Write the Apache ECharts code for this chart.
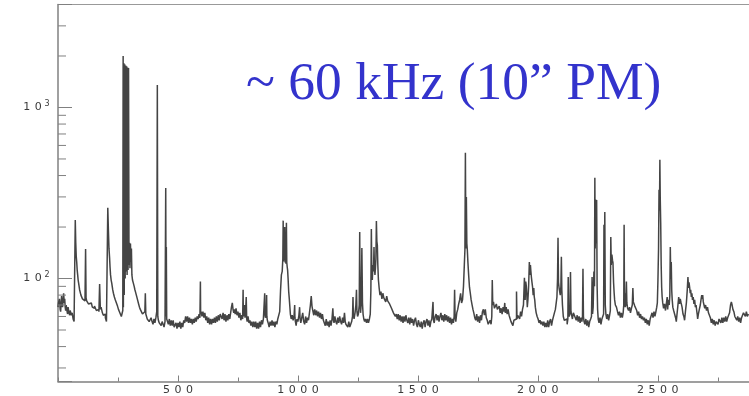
<!DOCTYPE html>
<html>
<head>
<meta charset="utf-8">
<script src="https://cdn.jsdelivr.net/npm/echarts@6/dist/echarts.min.js"></script>
<style>html,body{margin:0;padding:0;background:#fff;}#c{width:749px;height:396px;}</style>
</head>
<body>
<div id="c"></div>
<script>
// ---- data: [channel, counts] ----
const segA = [[0,68],[4,72],[8,76],[10,66],[12,64],[14,72],[16,79],[18,70],[20,68],[22,74],[25,82],[27,72],[29,76],[31,68],[33,65],[35,70],[37,71],[39,64],[41,62],[43,68],[45,69],[47,63],[50,61],[52,65],[54,66],[56,61],[58,60],[60,63],[62,62],[64,58],[66,58],[68,56],[71,57]];
const segB = [[73,220],[75,162],[77,135],[79,125],[81,112],[83,105],[85,98],[87,94],[89,90],[91,86],[94,84],[97,80],[100,79],[104,76],[108,75],[111,74],[114,73],[116,149],[118,77],[121,74],[125,73],[129,71],[133,70],[137,72],[141,71],[145,68],[150,67],[154,69],[158,68],[162,65],[166,64],[169,66],[172,64],[175,93],[178,66],[181,68],[183,67],[187,63],[191,61],[195,62],[200,59],[204,56],[206,57],[209,259],[211,193],[214,150],[216,132],[218,116],[220,105],[223,98],[225,94],[227,90],[229,86],[233,82],[237,78],[241,75],[246,72],[250,69],[254,66],[258,64],[262,63],[266,60],[269,59]];
const segC = [[271,65],[272,2000],[273,68],[275,1820],[277,80],[279,1790],[281,100],[283,1760],[285,110],[287,1740],[289,105],[291,1710],[293,112],[295,1700],[297,120],[299,162],[301,115],[303,160],[305,125],[307,150],[309,105],[312,98],[316,94],[319,90],[322,86],[325,83],[328,80],[331,77],[334,75],[338,71],[341,68],[345,66],[350,64],[354,62],[358,61],[361,63],[363,64],[365,82],[367,62],[370,61],[374,58],[378,59],[382,56],[386,57],[390,59],[394,56],[398,54],[402,58],[406,55],[410,59],[413,64],[415,1355],[417,60],[420,57],[424,55],[428,56],[432,53],[436,56],[440,54],[444,52],[448,56],[450,338],[451,60],[452,153],[454,58]];
const segD = [[458,58],[462,54],[466,58],[470,53],[474,57],[478,53],[482,57],[486,52],[490,51],[494,55],[498,51],[502,55],[506,52],[510,56],[514,51],[518,55],[522,52],[526,57],[530,55],[534,60],[538,56],[542,60],[546,55],[550,59],[554,55],[558,58],[562,54],[566,58],[570,55],[574,59],[578,56],[582,60],[586,58],[590,62],[593,59],[594,96],[595,62],[598,64],[602,60],[606,64],[610,59],[614,63],[618,57],[622,60],[626,55],[630,59],[634,54],[638,58],[642,54],[646,58],[650,55],[654,59],[658,55],[662,60],[666,56],[670,61],[674,57],[678,62],[682,60],[686,58],[690,63],[694,57],[698,62],[702,56],[706,61],[710,57],[714,62],[718,58],[721,63],[725,68],[728,72],[731,66],[734,63],[737,66],[740,62],[744,67],[748,61],[752,64],[756,59],[760,63],[764,57],[768,61],[771,58],[772,86],[773,60],[776,63],[779,70],[780,59],[783,62],[786,78],[787,58],[790,56],[794,60],[798,55],[802,57],[806,53],[810,56],[814,52],[818,56],[822,52],[826,56],[830,51],[834,55],[838,51],[842,56],[846,52],[850,57],[854,54],[858,58],[861,57],[862,82],[863,62],[866,59],[869,61],[870,80],[871,60],[874,57],[878,55],[882,52],[886,56],[890,53],[894,57],[898,53],[902,56],[906,52],[910,56],[914,54],[918,58],[922,57],[926,64],[929,85],[933,105],[936,110],[938,130],[939,218],[940,126],[942,145],[944,128],[946,200],[947,124],[949,150],[951,122],[953,212],[954,124],[956,118],[958,112],[960,100],[963,84],[965,76],[967,75]];
const segE = [[970,62],[974,58],[978,61],[982,57],[986,61],[987,70],[988,59],[991,56],[994,53],[998,58],[1002,56],[1006,61],[1008,68],[1010,58],[1014,55],[1018,59],[1022,63],[1026,56],[1030,54],[1034,60],[1038,55],[1042,59],[1046,57],[1050,63],[1054,70],[1057,79],[1060,69],[1064,65],[1068,61],[1072,66],[1076,61],[1080,65],[1084,60],[1088,64],[1092,59],[1096,63],[1100,58],[1104,62],[1108,57],[1112,55],[1116,53],[1120,58],[1124,53],[1128,56],[1132,52],[1136,57],[1140,53],[1144,58],[1147,67],[1149,57],[1152,55],[1156,60],[1160,56],[1164,54],[1168,59],[1172,55],[1176,60],[1180,56],[1184,54],[1188,59],[1192,55],[1196,63],[1198,56],[1202,54],[1206,55],[1210,52],[1214,56],[1218,52],[1222,51],[1226,56],[1229,60],[1230,78],[1232,62],[1236,58],[1240,63],[1243,70],[1245,86],[1247,64],[1250,60],[1254,62],[1257,70],[1258,187],[1260,80],[1262,63],[1265,70],[1268,151],[1270,72],[1273,62],[1276,58],[1280,56],[1284,58],[1288,55],[1292,58],[1296,55],[1300,58],[1303,62],[1305,85],[1307,195],[1309,110],[1311,98],[1314,120],[1316,110],[1318,153],[1320,115],[1322,105],[1324,115],[1326,130],[1328,217],[1330,165],[1332,157],[1334,120],[1337,98],[1340,88],[1344,80],[1348,84],[1352,76],[1356,82],[1360,77],[1364,79],[1368,73],[1372,79],[1376,74],[1380,76],[1384,71],[1388,72],[1392,67],[1396,67],[1400,63],[1404,64],[1408,60],[1412,62],[1416,58],[1420,62],[1424,57],[1428,61],[1432,56],[1436,60],[1440,55],[1444,60],[1448,56],[1452,61],[1456,57],[1460,55],[1464,59],[1468,54],[1472,59],[1476,55],[1480,58],[1484,53],[1488,57],[1492,59],[1496,54],[1500,52],[1504,57],[1508,54],[1512,52],[1516,56],[1520,51],[1524,55],[1528,57],[1532,52],[1536,56],[1540,58],[1544,53],[1548,57],[1552,52],[1556,56],[1560,58],[1562,59],[1564,73],[1566,57],[1570,55],[1574,60],[1578,62],[1582,57],[1586,61],[1590,56],[1594,60],[1598,63],[1602,57],[1606,61],[1610,56],[1614,62],[1618,57],[1622,61],[1626,56],[1630,60],[1634,55],[1638,59],[1642,54],[1646,58],[1650,55],[1652,60],[1654,86],[1656,60],[1660,56],[1664,63],[1668,66],[1672,71]];
const segF = [[1676,75],[1680,82],[1684,72],[1688,75],[1692,90],[1695,120],[1697,147],[1699,543],[1701,150],[1703,300],[1705,160],[1707,147],[1710,124],[1713,105],[1717,89],[1720,82],[1724,75],[1728,70],[1731,66],[1735,63],[1739,59],[1743,57],[1747,62],[1751,56],[1755,60],[1759,55],[1763,61],[1767,57],[1771,64],[1775,66],[1779,61],[1783,66],[1787,59],[1791,57],[1795,54],[1799,53],[1803,57],[1807,54],[1809,60],[1811,98],[1813,70],[1817,73],[1821,67],[1825,66],[1829,71],[1833,66],[1837,65],[1841,69],[1845,63],[1849,67],[1853,62],[1857,68],[1861,64],[1863,72],[1866,63],[1870,68],[1874,62],[1878,66],[1882,61],[1886,60],[1890,56],[1894,55],[1898,53],[1902,57],[1906,56],[1910,58],[1912,84],[1914,58],[1918,61],[1922,62],[1926,58],[1930,64],[1934,60],[1938,66],[1942,70],[1946,101],[1948,75],[1951,96],[1953,90],[1955,80],[1957,68],[1960,75],[1963,90],[1966,125],[1968,105],[1970,120],[1972,110],[1974,102],[1977,95],[1979,89],[1982,80],[1984,88],[1986,78],[1988,75],[1991,68],[1995,63],[1999,60]];
const segG = [[2003,58],[2007,55],[2011,57],[2015,54],[2019,56],[2023,53],[2027,56],[2031,52],[2035,55],[2039,52],[2043,57],[2047,52],[2051,56],[2055,58],[2059,53],[2063,57],[2067,58],[2071,63],[2075,66],[2078,72],[2081,78],[2083,100],[2085,173],[2087,95],[2090,88],[2092,88],[2095,80],[2097,90],[2099,134],[2101,85],[2104,70],[2108,60],[2112,57],[2116,56],[2120,58],[2124,54],[2126,58],[2127,102],[2129,62],[2132,60],[2135,62],[2137,109],[2139,64],[2142,63],[2146,58],[2150,63],[2154,64],[2158,59],[2162,57],[2166,61],[2170,56],[2174,60],[2178,55],[2182,59],[2185,56],[2187,60],[2189,114],[2191,60],[2194,56],[2198,54],[2202,58],[2206,53],[2210,57],[2214,52],[2218,56],[2222,58],[2225,60],[2227,102],[2229,62],[2232,68],[2235,110],[2237,90],[2238,388],[2240,150],[2242,290],[2244,160],[2246,288],[2248,90],[2250,66],[2253,58],[2257,55],[2261,59],[2265,54],[2269,58],[2273,57],[2275,62],[2276,206],[2278,80],[2280,245],[2282,70],[2285,62],[2289,58],[2293,62],[2297,57],[2301,61],[2303,65],[2305,175],[2307,120],[2310,138],[2312,128],[2314,124],[2317,95],[2319,82],[2321,75],[2325,70],[2330,68],[2334,64],[2338,61],[2342,64],[2346,59],[2350,63],[2354,59],[2357,63],[2359,70],[2360,206],[2362,72],[2363,82],[2365,68],[2368,70],[2370,96],[2372,72],[2376,67],[2380,65],[2384,68],[2388,63],[2392,67],[2395,70],[2397,88],[2399,73]];
const segH = [[2402,72],[2406,69],[2410,68],[2414,65],[2418,61],[2422,64],[2426,59],[2430,62],[2434,58],[2438,60],[2442,57],[2446,59],[2450,55],[2454,58],[2458,54],[2462,57],[2466,53],[2470,58],[2474,58],[2478,63],[2482,59],[2486,64],[2490,60],[2494,64],[2497,68],[2499,72],[2502,98],[2504,150],[2506,330],[2508,250],[2509,494],[2511,300],[2513,212],[2515,120],[2517,89],[2519,78],[2522,72],[2526,67],[2530,71],[2534,65],[2538,64],[2540,78],[2542,66],[2546,75],[2549,70],[2551,80],[2553,153],[2555,100],[2557,125],[2559,85],[2561,75],[2564,68],[2568,65],[2572,64],[2576,59],[2578,56],[2581,61],[2585,68],[2589,78],[2592,71],[2595,76],[2599,72],[2603,68],[2607,62],[2610,60],[2613,57],[2617,64],[2621,72],[2624,85],[2627,102],[2629,88],[2631,95],[2634,89],[2636,82],[2638,86],[2641,78],[2643,82],[2646,75],[2649,78],[2652,71],[2655,75],[2658,68],[2661,70],[2663,65],[2665,62],[2667,58],[2671,62],[2675,66],[2679,70],[2682,76],[2684,80],[2686,76],[2688,80],[2691,73],[2694,72],[2697,67],[2701,70],[2705,65],[2709,68],[2713,63],[2717,62],[2721,59],[2725,55],[2729,58],[2733,54],[2737,57],[2741,53],[2745,56],[2749,57],[2753,54],[2757,58],[2761,59],[2765,55],[2769,59],[2773,55],[2777,59],[2781,56],[2785,60],[2789,56],[2793,59],[2797,60],[2801,63],[2805,70],[2808,73],[2811,70],[2815,66],[2819,64],[2823,60],[2827,61],[2831,57],[2835,60],[2839,56],[2843,59],[2847,55],[2851,59],[2855,58],[2859,63],[2863,64],[2867,60],[2871,64],[2875,60],[2880,62]];

const yMajorTicks = [100, 1000];
const yMinorTicks = [30, 40, 50, 60, 70, 80, 90, 200, 300, 400, 500, 600, 700, 800, 900, 2000, 3000];
const titleText = '~ 60 kHz (10\u201D PM)';

const spectrum = [].concat(segA, segB, segC, segD, segE, segF, segG, segH);

const AXIS_COLOR = '#808080';
const X_MAX = 2880;
const spaced = s => String(s).split('').map(c => '{d|' + c + '}').join('');

const chart = echarts.init(document.getElementById('c'), null, { renderer: 'canvas' });
chart.setOption({
  animation: false,
  backgroundColor: '#ffffff',
  grid: { left: 58, right: 0, top: 4.5, bottom: 14.5, containLabel: false },
  xAxis: [{
    type: 'value', min: 0, max: X_MAX, interval: 500,
    axisLine: { show: true, onZero: false, lineStyle: { color: AXIS_COLOR, width: 1.5 } },
    axisTick: { show: true, inside: true, length: 6, lineStyle: { color: AXIS_COLOR, width: 1 } },
    splitLine: { show: false },
    axisLabel: {
      margin: 3, showMaxLabel: false, showMinLabel: false,
      formatter: v => (v <= 0 || v % 500 !== 0) ? '' : spaced(v),
      rich: { d: { width: 11.5, align: 'center', fontSize: 11, fontFamily: 'DejaVu Sans', color: '#3a3a3a', lineHeight: 12 } }
    }
  }, {
    type: 'value', min: 0, max: X_MAX, position: 'top',
    axisLine: { show: true, onZero: false, lineStyle: { color: '#999999', width: 1.2 } },
    axisTick: { show: false }, axisLabel: { show: false }, splitLine: { show: false }
  }, {
    type: 'value', min: 0, max: X_MAX, interval: 250, position: 'bottom',
    axisLine: { show: false, onZero: false },
    axisTick: { show: true, inside: true, length: 4, lineStyle: { color: AXIS_COLOR, width: 1 } },
    axisLabel: { show: false }, splitLine: { show: false }
  }],
  yAxis: {
    type: 'log', logBase: 10, min: 25, max: 4000,
    axisLine: { show: true, onZero: false, lineStyle: { color: AXIS_COLOR, width: 1.5 } },
    axisTick: { show: true, inside: true, length: 14, lineStyle: { color: AXIS_COLOR, width: 1 } },
    splitLine: { show: false },
    axisLabel: {
      margin: 8,
      formatter: v => {
        const e = Math.round(Math.log10(v));
        const hit = yMajorTicks.some(t => Math.abs(t - v) / t < 1e-6);
        return hit ? '{d|1}{d|0}{s|' + e + '}' : '';
      },
      rich: {
        d: { width: 11.5, align: 'center', fontSize: 11, fontFamily: 'DejaVu Sans', color: '#3a3a3a', lineHeight: 16 },
        s: { fontSize: 8, fontFamily: 'DejaVu Sans', color: '#3a3a3a', lineHeight: 8, verticalAlign: 'top', width: 6, align: 'center' }
      }
    }
  },
  graphic: [{
    type: 'text', left: 246, top: 58,
    style: { text: titleText, font: '53.5px "Liberation Serif"', fill: '#3333CC' }
  }],
  series: [{
    type: 'line', data: spectrum, showSymbol: false, symbol: 'none', step: 'middle',
    lineStyle: { color: '#444444', width: 1.5 }, clip: true, z: 3
  }, {
    type: 'custom', data: yMinorTicks.map(v => [0, v]), clip: false, silent: true, z: 4,
    renderItem: (params, api) => {
      const p = api.coord([api.value(0), api.value(1)]);
      return { type: 'line', shape: { x1: p[0], y1: p[1], x2: p[0] + 8, y2: p[1] },
        style: { stroke: AXIS_COLOR, lineWidth: 1 } };
    }
  }]
});
</script>
</body>
</html>
